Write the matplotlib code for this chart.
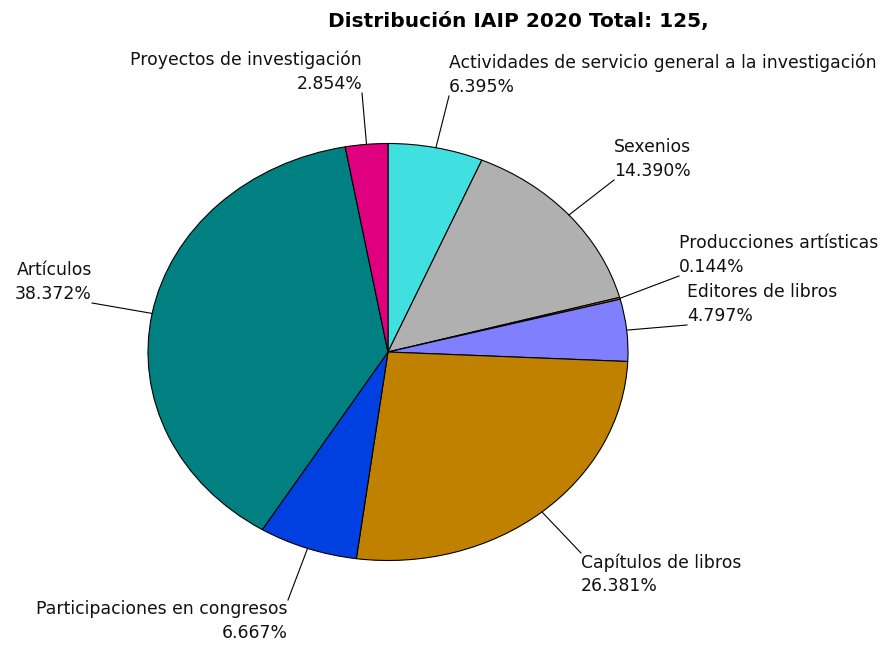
import numpy as np
from matplotlib import pyplot as plt

# Distribution values (percent), clockwise from 12 o'clock
labels = ["Actividades de servicio general a la investigación", "Sexenios",
          "Producciones artísticas", "Editores de libros", "Capítulos de libros",
          "Participaciones en congresos", "Artículos", "Proyectos de investigación"]
values = [6.395, 14.390, 0.144, 4.797, 26.381, 6.667, 38.372, 2.854]
colors = ["#40E0E0", "#B0B0B0", "#C08000", "#8080FF", "#C08000",
          "#0040E0", "#008080", "#E0007F"]

# where the label text sits (pixels in the reference) and how it's aligned
label_pos = [(449, 96), (614, 180), (679, 276), (687, 325), (581, 553),
             (288, 600), (92, 303), (362, 93)]
label_align = [("left", "bottom"), ("left", "bottom"), ("left", "bottom"),
               ("left", "bottom"), ("left", "top"), ("right", "top"),
               ("right", "bottom"), ("right", "bottom")]

W, H = 891, 645
cx, cy, rx, ry = 388, 352, 240, 208.5

fig = plt.figure(figsize=(W / 100, H / 100), dpi=100)
ax = fig.add_axes([(cx - rx) / W, (H - cy - ry) / H, 2 * rx / W, 2 * ry / H])

wedges, _ = ax.pie(values, colors=colors, startangle=90, counterclock=False,
                   wedgeprops=dict(edgecolor="black", linewidth=0.8))
ax.set_aspect("auto")
ax.set_xlim(-1, 1)
ax.set_ylim(-1, 1)
ax.axis("off")


def to_data(px, py):
    return (px - cx) / rx, (cy - py) / ry


for w, lab, v, pos, (ha, va) in zip(wedges, labels, values, label_pos, label_align):
    mid = np.deg2rad((w.theta1 + w.theta2) / 2)
    x0, y0 = np.cos(mid), np.sin(mid)
    tx, ty = to_data(*pos)
    ax.plot([x0, tx], [y0, ty], color="black", lw=0.8, clip_on=False)
    ax.text(tx, ty, f"{lab}\n{v:.3f}%", ha=ha, va=va, multialignment=ha,
            fontsize=12.4, linespacing=1.4, color="#111111")

fig.text(518 / W, 1 - 22 / H, "Distribución IAIP 2020 Total: 125,",
         ha="center", va="center", fontsize=14.5, fontweight="bold")

fig.savefig("out.png", dpi=100, facecolor="white")
